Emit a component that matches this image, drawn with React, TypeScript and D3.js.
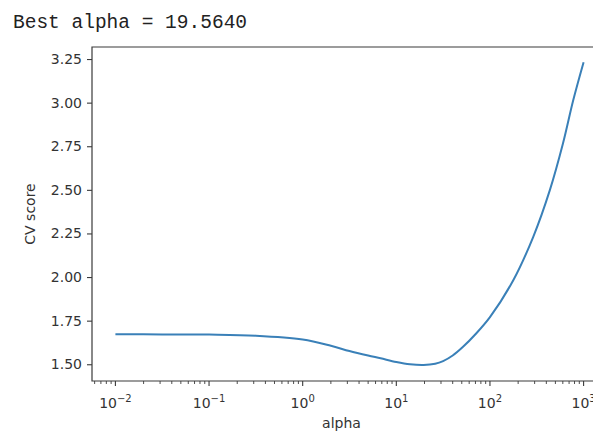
import React, { useEffect, useRef } from "react";
import * as d3 from "d3";

// values
const alphas = [
  0.01, 0.0316, 0.1, 0.316, 1, 2, 3.16, 5, 6.8, 10, 14, 19.56, 26, 31.6, 40,
  51.6, 70, 100, 178, 290, 437, 603, 776, 1000,
];
const cvScores = [
  1.672, 1.671, 1.67, 1.664, 1.642, 1.606, 1.576, 1.55, 1.534, 1.513, 1.5,
  1.496, 1.503, 1.518, 1.55, 1.6, 1.672, 1.77, 1.983, 2.231, 2.5, 2.767,
  3.015, 3.232,
];
const yTicks = [1.5, 1.75, 2.0, 2.25, 2.5, 2.75, 3.0, 3.25];
const xTickExps = [-2, -1, 0, 1, 2, 3];
const bestAlpha = 19.564;

const App = () => {
  const ref = useRef<SVGSVGElement>(null);
  const width = 593,
    height = 434;
  const left = 92,
    top = 47,
    bottom = 381,
    right = 607;

  useEffect(() => {
    const svg = d3.select(ref.current);
    svg.selectAll("*").remove();

    const xScale = d3
      .scaleLog()
      .domain([Math.pow(10, -2.25), Math.pow(10, 3.25)])
      .range([left, right]);
    const yScale = d3.scaleLinear().domain([1.404, 3.319]).range([bottom, top]);

    svg
      .append("text")
      .attr("x", 13)
      .attr("y", 28)
      .style("font-family", "'Liberation Mono', monospace")
      .style("font-size", "19.5px")
      .style("fill", "#222")
      .text(`Best alpha = ${bestAlpha.toFixed(4)}`);

    const line = d3
      .line<number>()
      .x((d, i) => xScale(alphas[i]))
      .y((d) => yScale(d))
      .curve(d3.curveCatmullRom.alpha(0.5));

    svg
      .append("path")
      .attr("d", line(cvScores))
      .attr("fill", "none")
      .attr("stroke", "#3a80b8")
      .attr("stroke-width", 2);

    const axisColor = "#3a3a3a";
    const font = "'DejaVu Sans', sans-serif";

    // y axis
    const yAxis = svg
      .append("g")
      .attr("transform", `translate(${left}, 0)`)
      .call(d3.axisLeft(yScale).tickValues(yTicks).tickSize(5).tickPadding(5).tickFormat(d3.format(".2f")));
    yAxis.select(".domain").remove();
    yAxis.selectAll(".tick line").attr("stroke", axisColor).attr("stroke-width", 1.1);
    yAxis
      .selectAll(".tick text")
      .style("font-family", font)
      .style("font-size", "14px")
      .style("fill", "#333");

    // x axis, major + minor log ticks
    const minor: number[] = [];
    for (let e = -3; e <= 3; e++) {
      for (let m = 2; m <= 9; m++) {
        const v = m * Math.pow(10, e);
        if (v > xScale.domain()[0] && v < xScale.domain()[1]) minor.push(v);
      }
    }
    const xAxis = svg.append("g").attr("transform", `translate(0, ${bottom})`);
    xAxis
      .selectAll("line.minor")
      .data(minor)
      .enter()
      .append("line")
      .attr("x1", (d) => xScale(d))
      .attr("x2", (d) => xScale(d))
      .attr("y1", 0)
      .attr("y2", 3)
      .attr("stroke", axisColor)
      .attr("stroke-width", 0.9);
    const major = xAxis
      .selectAll("g.major")
      .data(xTickExps)
      .enter()
      .append("g")
      .attr("transform", (d) => `translate(${xScale(Math.pow(10, d))}, 0)`);
    major
      .append("line")
      .attr("y1", 0)
      .attr("y2", 5)
      .attr("stroke", axisColor)
      .attr("stroke-width", 1.1);
    const lbl = major
      .append("text")
      .attr("y", 27)
      .attr("text-anchor", "middle")
      .style("font-family", font)
      .style("font-size", "14px")
      .style("fill", "#333");
    lbl.append("tspan").text("10");
    lbl
      .append("tspan")
      .attr("dy", -6)
      .style("font-size", "10px")
      .text((d) => (d < 0 ? "\u2212" + Math.abs(d) : String(d)));

    // spines
    svg
      .append("path")
      .attr("d", `M${right},${top}H${left}V${bottom}H${right}`)
      .attr("fill", "none")
      .attr("stroke", axisColor)
      .attr("stroke-width", 1.2);

    svg
      .append("text")
      .attr("x", (left + right) / 2 - 8)
      .attr("y", 428)
      .attr("text-anchor", "middle")
      .style("font-family", font)
      .style("font-size", "14px")
      .style("fill", "#333")
      .text("alpha");

    svg
      .append("text")
      .attr("transform", `translate(35, ${(top + bottom) / 2}) rotate(-90)`)
      .attr("text-anchor", "middle")
      .style("font-family", font)
      .style("font-size", "14px")
      .style("fill", "#333")
      .text("CV score");
  }, []);

  return (
    <svg
      ref={ref}
      width={width}
      height={height}
      style={{ position: "absolute", left: 0, top: 0, background: "#fff" }}
    />
  );
};
export default App;
